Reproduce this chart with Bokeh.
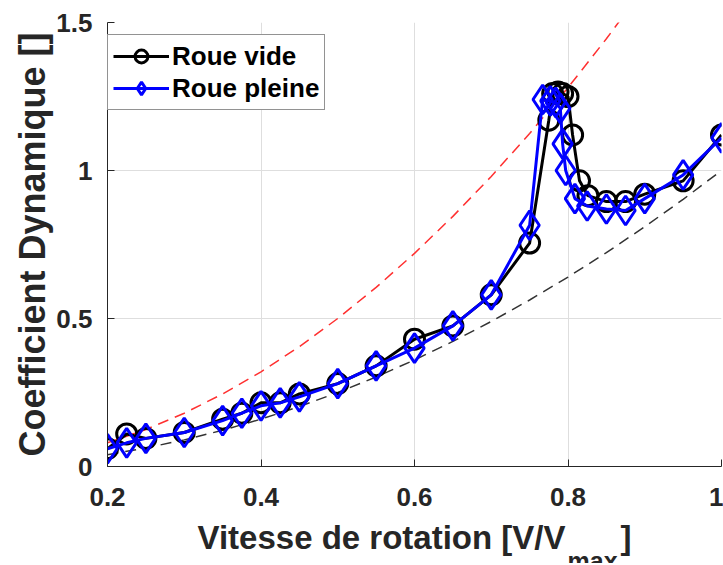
from bokeh.plotting import figure
from bokeh.models import Legend, LegendItem, FixedTicker, Title
from bokeh.embed import file_html
from bokeh.resources import INLINE

# ---- data ----
x_vide = [0.2, 0.225, 0.25, 0.3, 0.35, 0.375, 0.4, 0.425, 0.45, 0.5, 0.55, 0.6, 0.65, 0.7,
          0.75, 0.775, 0.78, 0.787, 0.793, 0.8, 0.806, 0.815, 0.826, 0.85, 0.875, 0.9, 0.95, 1.0]
y_vide = [0.06, 0.11, 0.095, 0.115, 0.16, 0.18, 0.215, 0.215, 0.245, 0.28, 0.34, 0.43, 0.475, 0.58,
          0.755, 1.17, 1.26, 1.265, 1.26, 1.25, 1.12, 0.965, 0.915, 0.895, 0.895, 0.92, 0.965, 1.12]

x_pleine = [0.2, 0.225, 0.25, 0.3, 0.35, 0.375, 0.4, 0.425, 0.45, 0.5, 0.55, 0.6, 0.65, 0.7,
            0.75, 0.767, 0.777, 0.784, 0.79, 0.793, 0.797, 0.809, 0.825, 0.85, 0.875, 0.9, 0.95, 1.0]
y_pleine = [0.06, 0.08, 0.095, 0.115, 0.155, 0.18, 0.205, 0.215, 0.235, 0.28, 0.34, 0.40, 0.475, 0.58,
            0.815, 1.24, 1.235, 1.23, 1.21, 1.09, 1.0, 0.905, 0.88, 0.87, 0.865, 0.905, 0.985, 1.11]

x_ref = [0.2, 0.25, 0.3, 0.35, 0.4, 0.45, 0.5, 0.55, 0.6, 0.65, 0.7, 0.75, 0.8, 0.85, 0.9, 0.95, 1.0]
y_ref_noir = [0.04, 0.0625, 0.09, 0.1225, 0.16, 0.2025, 0.25, 0.3025, 0.36, 0.4225, 0.49, 0.5625,
              0.64, 0.7225, 0.81, 0.9025, 1.0]
x_ref_rouge = [0.2, 0.25, 0.3, 0.35, 0.4, 0.45, 0.5, 0.55, 0.6, 0.65, 0.7, 0.75, 0.8, 0.85, 0.9]
y_ref_rouge = [0.08, 0.125, 0.18, 0.245, 0.32, 0.405, 0.5, 0.605, 0.72, 0.845, 0.98, 1.125,
               1.28, 1.445, 1.62]

x_ticks = [0.2, 0.4, 0.6, 0.8, 1.0]
x_tick_labels = ["0.2", "0.4", "0.6", "0.8", "1"]
y_ticks = [0, 0.5, 1.0, 1.5]
y_tick_labels = ["0", "0.5", "1", "1.5"]

FONT = "Liberation Sans"
TXT = "#262626"
NB = "\u00a0"

p = figure(width=723, height=563, x_range=(0.2, 1.0), y_range=(0, 1.5),
           output_backend="svg", toolbar_location=None,
           min_border_left=107, min_border_right=2, min_border_top=22, min_border_bottom=97)
p.outline_line_color = None
p.background_fill_color = "white"
p.border_fill_color = "white"

# axes
p.xaxis.ticker = FixedTicker(ticks=x_ticks)
p.xaxis.major_label_overrides = {t: l for t, l in zip(x_ticks, x_tick_labels)}
p.yaxis.ticker = FixedTicker(ticks=y_ticks)
p.yaxis.major_label_overrides = {t: l for t, l in zip(y_ticks, y_tick_labels)}
for ax in (p.xaxis[0], p.yaxis[0]):
    ax.major_tick_in = 7
    ax.major_tick_out = 0
    ax.minor_tick_line_color = None
    ax.axis_line_color = TXT
    ax.major_tick_line_color = TXT
    ax.major_label_text_font = FONT
    ax.major_label_text_font_style = "bold"
    ax.major_label_text_font_size = "26px"
    ax.major_label_text_color = TXT
    ax.axis_label_text_font = FONT
    ax.axis_label_text_font_style = "bold"
    ax.axis_label_text_color = TXT
p.xaxis.major_label_standoff = 21
p.yaxis.major_label_standoff = 15
p.yaxis.axis_label = "Coefficient Dynamique []"
p.yaxis.axis_label_text_font_size = "36px"
p.yaxis.axis_label_standoff = 0
p.xaxis.axis_label = "Vitesse de rotation [V/V" + NB * 6 + "]"
p.xaxis.axis_label_text_font_size = "33px"
p.xaxis.axis_label_standoff = 10

p.grid.grid_line_color = "#dedede"
p.grid.grid_line_width = 1
p.xgrid.ticker = FixedTicker(ticks=x_ticks)
p.ygrid.ticker = FixedTicker(ticks=y_ticks)

# reference curves
p.line(x_ref, y_ref_noir, line_color="#333333", line_width=1.5, line_dash="11 7")
p.line(x_ref_rouge, y_ref_rouge, line_color="#ff3030", line_width=1.5, line_dash="11 7")

# measured series
l1 = p.line(x_vide, y_vide, line_color="black", line_width=3)
s1 = p.scatter(x_vide, y_vide, marker="circle", size=20, fill_color=None,
               line_color="black", line_width=3)
l2 = p.line(x_pleine, y_pleine, line_color="#0000ff", line_width=3)
s2 = p.scatter(x_pleine, y_pleine, marker="diamond", size=29, fill_color=None,
               line_color="#0000ff", line_width=3)

legend = Legend(items=[LegendItem(label="Roue vide", renderers=[l1, s1]),
                       LegendItem(label="Roue pleine", renderers=[l2, s2])],
                location=(0, 356), margin=0, padding=5, spacing=0,
                glyph_width=56, glyph_height=32, label_height=32, label_standoff=3,
                label_text_font=FONT, label_text_font_style="bold",
                label_text_font_size="26px", label_text_color="black",
                border_line_color=TXT, border_line_width=1,
                background_fill_color="white", background_fill_alpha=1)
p.add_layout(legend)

# subscript of the x axis title
sub = Title(text="max", align="left", offset=460, standoff=-27,
            text_font=FONT, text_font_style="bold", text_font_size="25px",
            text_color=TXT)
p.add_layout(sub, "below")

open("out.html", "w").write(file_html(p, INLINE))
